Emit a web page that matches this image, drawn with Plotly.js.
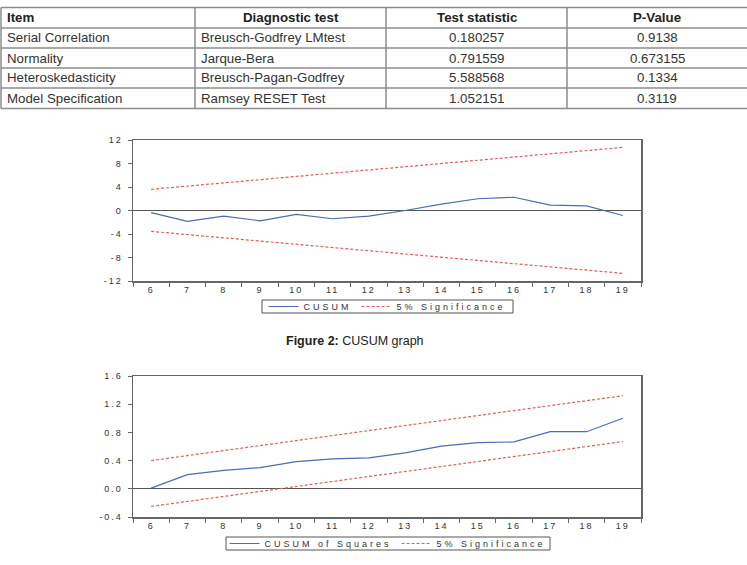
<!DOCTYPE html>
<html>
<head>
<meta charset="utf-8">
<script src="https://cdn.plot.ly/plotly-3.0.1.min.js"></script>
<style>
  html, body { margin: 0; padding: 0; background: #fff; }
  #chart { width: 747px; height: 565px; }
  .xtick text, .ytick text, .x2tick text, .y2tick text { letter-spacing: 2px; }
  .legendtext, .legend2text { letter-spacing: 3px; }
</style>
</head>
<body>
<div id="chart"></div>
<script>
// Residual diagnostic tests
const tableHeader = ['Item', 'Diagnostic test', 'Test statistic', 'P-Value'];
const items = ['Serial Correlation', 'Normality', 'Heteroskedasticity', 'Model Specification'];
const tests = ['Breusch-Godfrey LMtest', 'Jarque-Bera', 'Breusch-Pagan-Godfrey', 'Ramsey RESET Test'];
const statistics = ['0.180257', '0.791559', '5.588568', '1.052151'];
const pValues = ['0.9138', '0.673155', '0.1334', '0.3119'];

// Recursive stability tests, periods 6..19
const periods = ['6', '7', '8', '9', '10', '11', '12', '13', '14', '15', '16', '17', '18', '19'];
const cusum = [-0.35, -1.85, -0.95, -1.75, -0.65, -1.4, -0.95, 0.0, 1.1, 2.0, 2.25, 0.9, 0.8, -0.85];
const cusumUpper = [3.6, 4.15, 4.7, 5.25, 5.8, 6.35, 6.9, 7.45, 8.0, 8.55, 9.1, 9.65, 10.2, 10.75];
const cusumLower = [-3.55, -4.1, -4.65, -5.2, -5.75, -6.3, -6.85, -7.4, -7.95, -8.5, -9.05, -9.6, -10.15, -10.7];
const cusumSq = [0.01, 0.2, 0.26, 0.3, 0.385, 0.425, 0.44, 0.51, 0.605, 0.655, 0.665, 0.81, 0.81, 1.0];
const cusumSqUpper = [0.40, 0.47, 0.54, 0.61, 0.68, 0.75, 0.82, 0.89, 0.96, 1.04, 1.11, 1.18, 1.25, 1.32];
const cusumSqLower = [-0.25, -0.18, -0.11, -0.04, 0.03, 0.10, 0.17, 0.24, 0.31, 0.39, 0.46, 0.53, 0.60, 0.67];

const cusumTickVals = [-12, -8, -4, 0, 4, 8, 12];
const cusumTickText = ['-12', '-8', '-4', '0', '4', '8', '12'];
const sqTickVals = [-0.4, 0, 0.4, 0.8, 1.2, 1.6];
const sqTickText = ['-0.4', '0.0', '0.4', '0.8', '1.2', '1.6'];

// ---- page geometry (pixels -> paper fractions) ----
const W = 747, H = 565;
const px = v => v / W;
const py = v => 1 - v / H;

const BLUE = '#4a6cb3';
const RED = '#e35d5d';
const FRAME = '#666';
const tableFont = 'Liberation Sans, Arial, sans-serif';
const chartFont = 'Liberation Sans, Arial, sans-serif';

// ---- table built from shapes + annotations ----
const colEdges = [1, 195, 386, 567, 747];
const rowEdges = [7.5, 28, 48, 68, 88, 108.5];
const colAlign = ['left', 'left', 'center', 'center'];
const shapes = [];
const annotations = [];
const gridLine = { color: '#8c8c8c', width: 1.5 };

rowEdges.forEach(y => shapes.push({
  type: 'line', xref: 'paper', yref: 'paper',
  x0: px(colEdges[0]), x1: px(colEdges[4]), y0: py(y), y1: py(y), line: gridLine
}));
colEdges.slice(0, 4).forEach(x => shapes.push({
  type: 'line', xref: 'paper', yref: 'paper',
  x0: px(x), x1: px(x), y0: py(rowEdges[0]), y1: py(rowEdges[5]), line: gridLine
}));

const rows = [tableHeader].concat(items.map((it, i) => [it, tests[i], statistics[i], pValues[i]]));
rows.forEach((row, r) => {
  const yc = (rowEdges[r] + rowEdges[r + 1]) / 2;
  row.forEach((txt, c) => {
    const align = (r === 0 && c > 0) ? 'center' : colAlign[c];
    const left = align === 'left';
    annotations.push({
      xref: 'paper', yref: 'paper',
      x: left ? px(colEdges[c] + 4) : px((colEdges[c] + colEdges[c + 1]) / 2),
      xanchor: align,
      y: py(yc), yanchor: 'middle',
      text: r === 0 ? '<b>' + txt + '</b>' : txt,
      showarrow: false,
      font: { family: tableFont, size: 13.3, color: r === 0 ? '#222' : '#333' }
    });
  });
});

// figure caption
annotations.push({
  xref: 'paper', yref: 'paper', x: px(355), y: py(341),
  xanchor: 'center', yanchor: 'middle', showarrow: false,
  text: '<b>Figure 2:</b> CUSUM graph',
  font: { family: chartFont, size: 12.5, color: '#222' }
});

// legend frames
[[262, 513, 300, 313], [226, 550, 537, 550]].forEach(b => shapes.push({
  type: 'rect', xref: 'paper', yref: 'paper',
  x0: px(b[0]), x1: px(b[1]), y0: py(b[3]), y1: py(b[2]),
  line: { color: '#555', width: 1 }, fillcolor: 'rgba(0,0,0,0)'
}));

// ---- axes ----
function xAxis(anchor) {
  return {
    anchor: anchor, domain: [px(133), px(641)],
    type: 'category', range: [-0.5, periods.length - 0.5],
    tickson: 'boundaries', ticks: 'outside', ticklen: 4, tickcolor: FRAME, tickwidth: 1,
    showline: true, mirror: true, linecolor: FRAME, linewidth: 1.5,
    showgrid: false, zeroline: false, fixedrange: true,
    tickfont: { family: chartFont, size: 9, color: '#333' }
  };
}
function yAxis(anchor, top, bottom, range, vals, text) {
  return {
    anchor: anchor, domain: [py(bottom), py(top)], range: range,
    tickmode: 'array', tickvals: vals, ticktext: text,
    ticks: 'outside', ticklen: 4, tickcolor: FRAME, tickwidth: 1,
    showline: true, mirror: true, linecolor: FRAME, linewidth: 1.5,
    showgrid: false, zeroline: true, zerolinecolor: '#555', zerolinewidth: 1,
    ticklabelstandoff: 3, fixedrange: true,
    tickfont: { family: chartFont, size: 9, color: '#333' }
  };
}
function legendBox(centerX, middle) {
  return {
    x: px(centerX), xanchor: 'center', y: py(middle), yanchor: 'middle',
    orientation: 'h', borderwidth: 0, bgcolor: 'rgba(0,0,0,0)',
    font: { family: chartFont, size: 9, color: '#333' }
  };
}

const sigLine = { color: RED, width: 1.2, dash: '3px,2px' };
const mainLine = { color: BLUE, width: 1.2 };

const traces = [
  { x: periods, y: cusum, xaxis: 'x', yaxis: 'y', mode: 'lines', line: mainLine,
    name: 'CUSUM', legend: 'legend' },
  { x: periods, y: cusumUpper, xaxis: 'x', yaxis: 'y', mode: 'lines', line: sigLine,
    name: '5% Significance', legend: 'legend', legendgroup: 'sig1' },
  { x: periods, y: cusumLower, xaxis: 'x', yaxis: 'y', mode: 'lines', line: sigLine,
    name: '5% Significance', legend: 'legend', legendgroup: 'sig1', showlegend: false },
  { x: periods, y: cusumSq, xaxis: 'x2', yaxis: 'y2', mode: 'lines', line: mainLine,
    name: 'CUSUM of Squares', legend: 'legend2' },
  { x: periods, y: cusumSqUpper, xaxis: 'x2', yaxis: 'y2', mode: 'lines', line: sigLine,
    name: '5% Significance', legend: 'legend2', legendgroup: 'sig2' },
  { x: periods, y: cusumSqLower, xaxis: 'x2', yaxis: 'y2', mode: 'lines', line: sigLine,
    name: '5% Significance', legend: 'legend2', legendgroup: 'sig2', showlegend: false }
];

const layout = {
  width: W, height: H,
  margin: { l: 0, r: 0, t: 0, b: 0 },
  paper_bgcolor: '#fff', plot_bgcolor: '#fff',
  showlegend: true, hovermode: false,
  xaxis: xAxis('y'),
  yaxis: yAxis('x', 140, 281, [-12, 12], cusumTickVals, cusumTickText),
  xaxis2: xAxis('y2'),
  yaxis2: yAxis('x2', 376, 517, [-0.4, 1.6], sqTickVals, sqTickText),
  legend: legendBox(387.5, 306.5),
  legend2: legendBox(388, 543.5),
  shapes: shapes,
  annotations: annotations
};

Plotly.newPlot('chart', traces, layout, { displayModeBar: false, staticPlot: true });
</script>
</body>
</html>
